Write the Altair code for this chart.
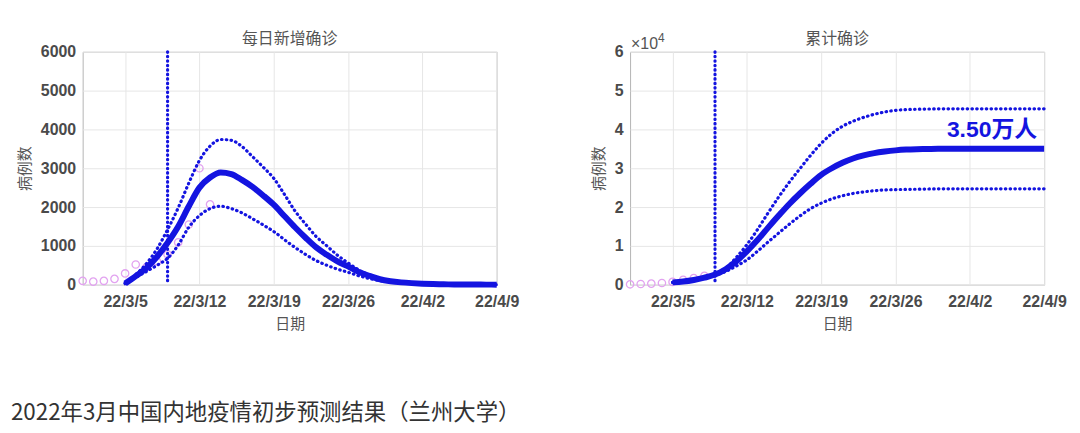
import altair as alt
import pandas as pd

BLUE = "#1414e0"
PINK = "#e2a2f0"
GRAY_TXT = "#4a4a4a"
CJK = "Noto Sans CJK SC"
LATIN = "Liberation Sans, Noto Sans CJK SC"

# ---------------- data ----------------
model_dates = list(pd.date_range("2022-03-05", "2022-04-09").strftime("%Y-%m-%d"))

daily_mean = [30, 220, 430, 720, 1080, 1500, 2020, 2500, 2760, 2890, 2850, 2700,
              2520, 2300, 2060, 1770, 1480, 1210, 960, 770, 600, 470, 330, 230,
              140, 90, 60, 40, 25, 15, 10, 6, 4, 3, 2, 1]
daily_upper = [40, 260, 540, 920, 1420, 1980, 2620, 3200, 3570, 3740, 3720, 3560,
               3300, 3030, 2740, 2330, 1900, 1560, 1240, 1000, 760, 560, 380, 250,
               160, 100, 65, 40, 25, 15, 10, 6, 4, 3, 2, 1]
daily_lower = [25, 190, 340, 500, 680, 1020, 1480, 1780, 1960, 2020, 1960, 1850,
               1700, 1540, 1370, 1160, 960, 780, 620, 500, 400, 320, 230, 160,
               105, 70, 45, 30, 20, 12, 8, 5, 3, 2, 1, 1]

cum_mean = [600, 800, 1200, 1800, 2600, 4000, 6000, 8600, 11500, 14700, 17800, 20800,
            23500, 26000, 28300, 30000, 31400, 32500, 33300, 33900, 34300, 34600, 34800, 34900,
            34950, 35000, 35000, 35000, 35000, 35000, 35000, 35000, 35000, 35000, 35000, 35000]
cum_upper = [600, 800, 1300, 1900, 2700, 4200, 7000, 10300, 14200, 18500, 22600, 26400,
             29900, 33300, 36400, 38900, 40800, 42100, 43100, 43900, 44500, 44900, 45100, 45200,
             45250, 45300, 45300, 45300, 45300, 45300, 45300, 45300, 45300, 45300, 45300, 45300]
cum_lower = [600, 800, 1100, 1700, 2400, 3400, 4800, 6400, 8600, 11000, 13300, 15600,
             17700, 19600, 21000, 22100, 22900, 23500, 23900, 24200, 24400, 24500, 24550, 24600,
             24650, 24700, 24700, 24700, 24700, 24700, 24700, 24700, 24700, 24700, 24700, 24700]

obs_daily_dates = ["2022-03-01", "2022-03-02", "2022-03-03", "2022-03-04", "2022-03-05",
                   "2022-03-06", "2022-03-07", "2022-03-08", "2022-03-09", "2022-03-10",
                   "2022-03-11", "2022-03-12", "2022-03-13"]
obs_daily = [100, 80, 100, 150, 290, 520, 450, 600, 780, 1090, 1550, 3000, 2070]

obs_cum_dates = ["2022-03-01", "2022-03-02", "2022-03-03", "2022-03-04", "2022-03-05",
                 "2022-03-06", "2022-03-07", "2022-03-08"]
obs_cum = [100, 180, 280, 430, 720, 1240, 1690, 2290]

cutoff_date = ["2022-03-09"]
x_tick_dates = [(2022, 3, 5), (2022, 3, 12), (2022, 3, 19), (2022, 3, 26), (2022, 4, 2), (2022, 4, 9)]
x_domain = [(2022, 3, 1), (2022, 4, 9)]
y_ticks_daily = [0, 1000, 2000, 3000, 4000, 5000, 6000]
y_ticks_cum = [0, 10000, 20000, 30000, 40000, 50000, 60000]

final_label = ["3.50万人"]
final_label_pos = [("2022-04-09", 39800)]
exp_label = ["×10", "4"]
exp_pos = ("2022-03-01", 60000)

titles = ["每日新增确诊", "累计确诊"]
x_title = "日期"
y_title = "病例数"
caption = "2022年3月中国内地疫情初步预测结果（兰州大学）"

# ---------------- helpers ----------------
def dt(t):
    return alt.DateTime(year=t[0], month=t[1], date=t[2], utc=True)

W, H = 416, 234


def x_enc():
    return alt.X(
        "date:T",
        scale=alt.Scale(type="utc", domain=[dt(d) for d in x_domain]),
        axis=alt.Axis(values=[dt(d) for d in x_tick_dates], format="%y/%-m/%-d",
                      title=x_title),
    )


def panel(dates, mean, upper, lower, obs_d, obs_v, y_ticks, y_max, title,
          title_offset, cum=False):
    df_model = pd.DataFrame({"date": dates, "mean": mean, "upper": upper, "lower": lower})
    df_obs = pd.DataFrame({"date": obs_d, "value": obs_v})
    df_cut = pd.DataFrame({"date": cutoff_date})

    if cum:
        y_axis = alt.Axis(values=y_ticks, title=y_title, labelExpr="datum.value / 10000")
    else:
        y_axis = alt.Axis(values=y_ticks, title=y_title, format="d")
    y_scale = alt.Scale(domain=[0, y_max], nice=False)

    def y_enc(field):
        return alt.Y(field, scale=y_scale, axis=y_axis)

    base = alt.Chart(df_model)
    bounds = base.transform_fold(["upper", "lower"], as_=["series", "v"]).mark_line(
        color=BLUE, strokeWidth=3.2, strokeDash=[0.5, 4.3], strokeCap="round",
        interpolate="monotone"
    ).encode(x=x_enc(), y=y_enc("v:Q"), detail="series:N")
    mean_line = base.mark_line(color=BLUE, strokeWidth=6, interpolate="monotone").encode(
        x=x_enc(), y=y_enc("mean:Q")
    )
    obs = alt.Chart(df_obs).mark_point(
        shape="circle", filled=False, size=55, strokeWidth=1.3, color=PINK, opacity=1
    ).encode(x=x_enc(), y=y_enc("value:Q"))
    cut = alt.Chart(df_cut).mark_rule(
        color=BLUE, strokeWidth=3.2, strokeDash=[0.5, 4], strokeCap="round"
    ).encode(x=x_enc())

    layers = [obs, bounds, mean_line, cut]
    if cum:
        lab_df = pd.DataFrame({"date": [p[0] for p in final_label_pos],
                               "value": [p[1] for p in final_label_pos],
                               "label": final_label})
        lab = alt.Chart(lab_df).mark_text(
            align="right", baseline="middle", dx=-7, fontSize=23, fontWeight="bold",
            color=BLUE, font=LATIN
        ).encode(x=x_enc(), y=y_enc("value:Q"), text="label:N")
        exp_df = pd.DataFrame({"date": [exp_pos[0]], "value": [exp_pos[1]],
                               "label": [exp_label[0]]})
        exp_df2 = pd.DataFrame({"date": [exp_pos[0]], "value": [exp_pos[1]],
                                "label": [exp_label[1]]})
        e1 = alt.Chart(exp_df).mark_text(
            align="left", baseline="alphabetic", dx=1, dy=-3, fontSize=16,
            color="#555", font=LATIN
        ).encode(x=x_enc(), y=y_enc("value:Q"), text="label:N")
        e2 = alt.Chart(exp_df2).mark_text(
            align="left", baseline="alphabetic", dx=28, dy=-10, fontSize=12,
            color="#555", font=LATIN
        ).encode(x=x_enc(), y=y_enc("value:Q"), text="label:N")
        layers += [lab, e1, e2]

    return alt.layer(*layers).properties(
        width=W, height=H,
        title=alt.TitleParams(title, fontSize=16, font=CJK, fontWeight="normal",
                              color="#555", offset=title_offset, frame="group",
                              anchor="middle"),
    )


left = panel(model_dates, daily_mean, daily_upper, daily_lower,
             obs_daily_dates, obs_daily, y_ticks_daily, 6000, titles[0], -3)
right = panel(model_dates, cum_mean, cum_upper, cum_lower,
              obs_cum_dates, obs_cum, y_ticks_cum, 60000, titles[1], -15, cum=True)

chart = alt.hconcat(left, right, spacing=134, bounds="flush").properties(
    padding={"left": 2, "top": 21, "right": 5, "bottom": 5},
    title=alt.TitleParams(caption, orient="bottom", anchor="start", frame="bounds",
                          offset=70, fontSize=22.5, font=CJK, fontWeight="normal",
                          color="#333", dx=-6),
).configure_view(
    stroke="#b4b4b4", strokeWidth=1
).configure_axis(
    grid=True, gridColor="#e6e6e6", gridWidth=1, domain=False, tickSize=0,
    labelFont="Liberation Sans", labelFontSize=16, labelFontWeight="bold", labelColor=GRAY_TXT,
    titleFont=CJK, titleFontSize=15, titleFontWeight="normal", titleColor="#555",
).configure_axisX(
    labelPadding=9, titlePadding=7, labelFlush=False
).configure_axisY(
    labelPadding=7, titlePadding=8
)

chart.save("out.html", embed_options={"renderer": "svg", "actions": False})
